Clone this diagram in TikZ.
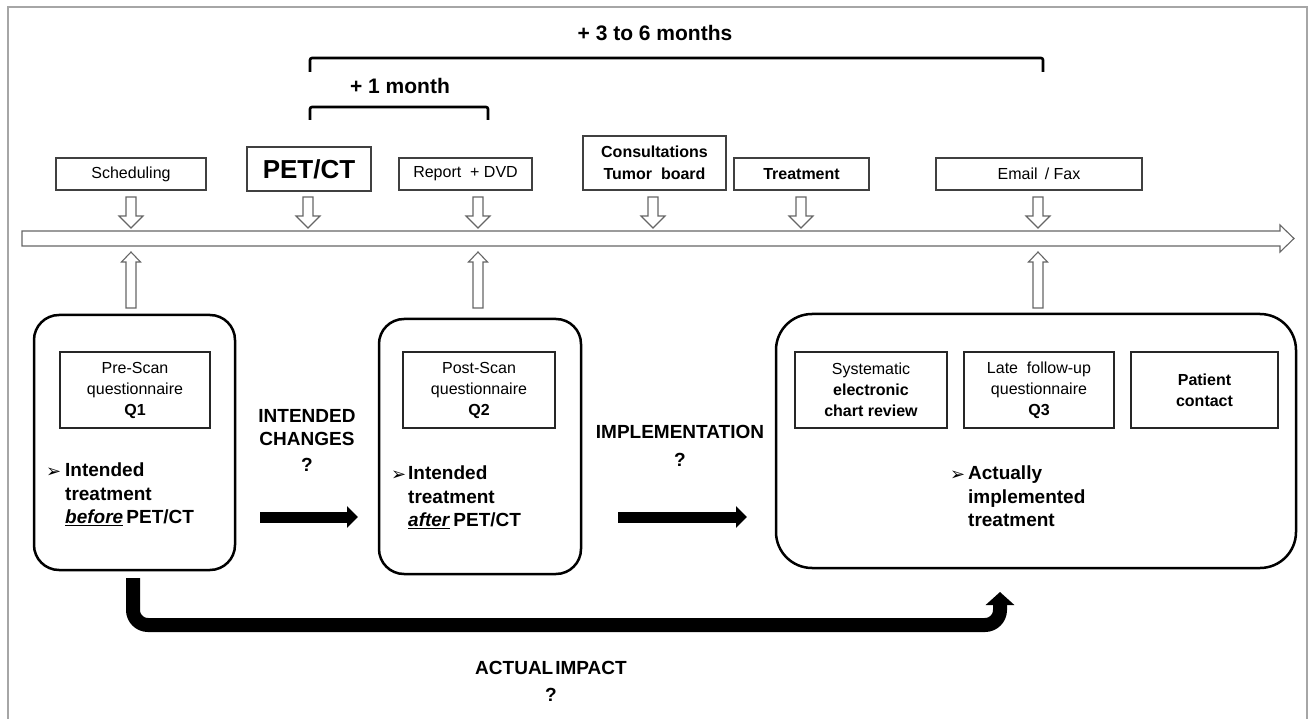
\documentclass[tikz,border=0pt]{standalone}
\usepackage{fontspec}
\setmainfont{Liberation Sans}
\newfontfamily\dvs{DejaVu Sans}
\usetikzlibrary{arrows.meta}
\tikzset{
 tbox/.style={draw=black!75, line width=1.2pt, inner sep=0pt, align=center, font=\fontsize{16}{21}\selectfont},
 qbox/.style={draw=black!85, line width=1.8pt, inner sep=0pt, align=center, minimum width=150pt, minimum height=76pt, font=\fontsize{16}{21}\selectfont},
 rbox/.style={draw=black, line width=2.5pt, rounded corners=#1, inner sep=0pt},
 hollow/.style={draw=black!60, line width=1.1pt, fill=white, line join=miter},
 bracket/.style={draw=black, line width=2.6pt, rounded corners=2pt},
 lbl/.style={inner sep=0pt, align=center, font=\bfseries\fontsize{19}{23}\selectfont},
 bul/.style={inner sep=0pt, anchor=north west, align=left, font=\bfseries\fontsize{19}{23.5}\selectfont},
 bulletmark/.style={inner sep=0pt, anchor=base west, font=\dvs\fontsize{18}{18}\selectfont},
 fat/.style={line width=11pt, -{Triangle[width=21pt,length=11pt]}},
}
\begin{document}
\begin{tikzpicture}[x=1pt,y=-1pt]
\useasboundingbox (0,0) rectangle (1310,719);
% frame
\draw[black!35, line width=2pt] (7.5,719) -- (7.5,7.5) -- (1306.5,7.5) -- (1306.5,719);

% brackets
\draw[bracket] (310,72) -- (310,58) -- (1043,58) -- (1043,72);
\node[lbl, font=\bfseries\fontsize{21}{25}\selectfont] (t36) at (655,33) {+ 3 to 6 months};
\draw[bracket] (310,120) -- (310,107) -- (488,107) -- (488,120);
\node[lbl, font=\bfseries\fontsize{21}{25}\selectfont] (t1) at (400,86) {+ 1 month};

% top boxes
\node[tbox, minimum width=150pt, minimum height=32pt] (sched) at (131,174) {Scheduling};
\node[tbox, minimum width=124pt, minimum height=44pt, font=\bfseries\fontsize{26}{30}\selectfont] (pet) at (309,169) {PET/CT};
\node[tbox, minimum width=133pt, minimum height=32pt] (rep) at (465.5,174) {Report\ \ + DVD};
\node[tbox, minimum width=143pt, minimum height=54pt, font=\bfseries\fontsize{16}{22}\selectfont] (cons) at (654.5,163) {Consultations\\Tumor\ \ board};
\node[tbox, minimum width=135pt, minimum height=32pt, font=\bfseries\fontsize{16}{21}\selectfont] (treat) at (801.5,174) {Treatment};
\node[tbox, minimum width=206pt, minimum height=32pt] (mail) at (1039,174) {Email \,/ Fax};

% down arrows
\foreach \x in {131,308,478,653,801,1038} {
  \begin{scope}[shift={(\x,0)}]
    \draw[hollow] (-5,197) -- (5,197) -- (5,216) -- (12,216) -- (0,228) -- (-12,216) -- (-5,216) -- cycle;
  \end{scope}
}

% timeline
\draw[hollow] (22,231) -- (1280,231) -- (1280,225) -- (1294,238.5) -- (1280,252) -- (1280,246) -- (22,246) -- cycle;

% up arrows
\foreach \x in {131,478,1038} {
  \begin{scope}[shift={(\x,0)}]
    \draw[hollow] (-5,308) -- (5,308) -- (5,262) -- (9.5,262) -- (0,252) -- (-9.5,262) -- (-5,262) -- cycle;
  \end{scope}
}

% rounded boxes
\node[rbox=25pt, minimum width=201pt, minimum height=255pt] (b1) at (134.5,442.5) {};
\node[rbox=25pt, minimum width=202pt, minimum height=255pt] (b2) at (480,446.5) {};
\node[rbox=36pt, minimum width=520pt, minimum height=254pt] (b3) at (1036,441) {};

% inner boxes
\node[qbox] (q1) at (135,390) {Pre-Scan\\questionnaire\\\textbf{Q1}};
\node[qbox, minimum width=152pt] (q2) at (479,390) {Post-Scan\\questionnaire\\\textbf{Q2}};
\node[qbox, minimum width=152pt] (chart) at (871,390) {Systematic\\\textbf{electronic}\\\textbf{chart review}};
\node[qbox] (q3) at (1039,390) {Late\ \ follow-up\\questionnaire\\\textbf{Q3}};
\node[qbox, minimum width=147pt] (pc) at (1204.5,390) {\textbf{Patient}\\\textbf{contact}};

% bullet texts
\node[bulletmark] (bu1) at (46,477) {➢};
\node[bul] (it1) at (65,463) {Intended\\treatment\\\underline{\textit{before}}\,PET/CT};
\node[bulletmark] (bu2) at (391,480) {➢};
\node[bul] (it2) at (408,466) {Intended\\treatment\\\underline{\textit{after}}\,PET/CT};
\node[bulletmark] (bu3) at (950,480) {➢};
\node[bul] (it3) at (968,466) {Actually\\implemented\\treatment};

% labels
\node[lbl] (ic) at (307,440) {INTENDED\\CHANGES\\[3pt]?};
\node[lbl] (impl) at (680,446) {IMPLEMENTATION\\[5pt]?};
\node[lbl] (ai) at (551,681) {ACTUAL\hspace{2pt}IMPACT\\[4pt]?};

% thick arrows
\coordinate (a1s) at (260,517); \coordinate (a1e) at (358,517);
\draw[fat] (a1s) -- (a1e);
\coordinate (a2s) at (618,517); \coordinate (a2e) at (747,517);
\draw[fat] (a2s) -- (a2e);

% actual impact arrow
\coordinate (ls) at (133,578); \coordinate (lc1) at (133,625);
\coordinate (lc2) at (1000,625); \coordinate (le) at (1000,592);
\draw[line width=14pt, rounded corners=15pt, -{Triangle[width=28pt,length=13pt]}] (ls) -- (lc1) -- (lc2) -- (le);
\end{tikzpicture}
\end{document}
